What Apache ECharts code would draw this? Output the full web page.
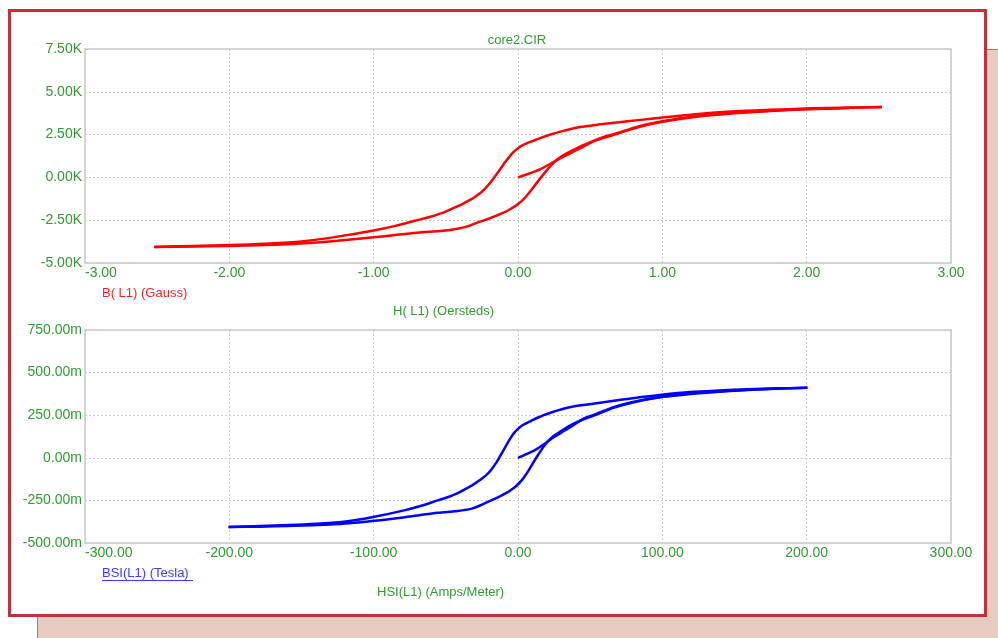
<!DOCTYPE html>
<html>
<head>
<meta charset="utf-8">
<style>
  html, body { margin: 0; padding: 0; background: #ffffff; }
  #chart { width: 998px; height: 638px; }
</style>
<script src="https://cdn.jsdelivr.net/npm/echarts@6/dist/echarts.min.js"></script>
</head>
<body>
<div id="chart"></div>
<script>
// ---- Tick values and labels ----
const xTicksCgs = [-3, -2, -1, 0, 1, 2, 3];
const xLabelsCgs = ['-3.00', '-2.00', '-1.00', '0.00', '1.00', '2.00', '3.00'];
const yTicksCgs = [-5000, -2500, 0, 2500, 5000, 7500];
const yLabelsCgs = ['-5.00K', '-2.50K', '0.00K', '2.50K', '5.00K', '7.50K'];
const xTicksSi = [-300, -200, -100, 0, 100, 200, 300];
const xLabelsSi = ['-300.00', '-200.00', '-100.00', '0.00', '100.00', '200.00', '300.00'];
const yTicksSi = [-0.5, -0.25, 0, 0.25, 0.5, 0.75];
const yLabelsSi = ['-500.00m', '-250.00m', '0.00m', '250.00m', '500.00m', '750.00m'];

// ---- B(H) in CGS units: H in Oersteds, B in Gauss ----
// initial magnetisation curve
const initH = [0, 0.04, 0.083, 0.152, 0.222, 0.291, 0.34, 0.383, 0.43, 0.476, 0.545, 0.6, 0.66, 0.75, 0.845, 1.0, 1.25, 1.5, 1.75, 2.0, 2.25, 2.52];
const initB = [0, 110, 240, 473, 783, 1115, 1320, 1500, 1700, 1893, 2200, 2380, 2520, 2760, 3000, 3280, 3580, 3770, 3900, 3990, 4060, 4110];
// descending branch
const descH = [2.52, 2.25, 2.0, 1.75, 1.5, 1.25, 1.0, 0.85, 0.7, 0.55, 0.43, 0.3, 0.22, 0.17, 0.13, 0.1, 0.06, 0.03, 0, -0.03, -0.055, -0.09, -0.125, -0.16, -0.194, -0.23, -0.263, -0.31, -0.355, -0.4, -0.448, -0.54, -0.62, -0.7, -0.85, -1.0, -1.25, -1.5, -1.75, -2.0, -2.25, -2.52];
const descB = [4110, 4070, 4020, 3950, 3860, 3700, 3500, 3360, 3220, 3080, 2940, 2690, 2490, 2350, 2220, 2120, 1990, 1870, 1700, 1490, 1260, 880, 460, 50, -330, -670, -930, -1200, -1420, -1620, -1800, -2120, -2330, -2500, -2830, -3100, -3460, -3740, -3870, -3950, -4000, -4060];
// ascending branch
const ascH = [-2.52, -2.25, -2.0, -1.75, -1.5, -1.25, -1.0, -0.85, -0.7, -0.54, -0.47, -0.402, -0.33, -0.263, -0.2, -0.148, -0.1, -0.055, -0.02, 0, 0.03, 0.06, 0.095, 0.13, 0.165, 0.199, 0.23, 0.268, 0.31, 0.36, 0.41, 0.453, 0.545, 0.66, 0.75, 0.845, 1.0, 1.25, 1.5, 1.75, 2.0, 2.3];
const ascB = [-4060, -4040, -4000, -3950, -3860, -3700, -3500, -3360, -3230, -3130, -3070, -2975, -2800, -2585, -2400, -2230, -2060, -1860, -1680, -1550, -1340, -1070, -710, -320, 60, 410, 715, 1016, 1280, 1500, 1710, 1890, 2185, 2480, 2720, 2960, 3250, 3560, 3750, 3880, 3980, 4060];

// ---- BSI(HSI) in SI units: H in A/m, B in Tesla ----
const initHsi = [0, 3.2, 6.6, 12.1, 17.7, 23.2, 27.1, 30.5, 34.2, 37.9, 43.4, 47.7, 52.5, 59.7, 67.2, 79.6, 99.5, 119.4, 139.3, 159.2, 179.0, 200.5];
const initBsi = [0, 0.011, 0.024, 0.047, 0.078, 0.112, 0.132, 0.150, 0.170, 0.189, 0.220, 0.238, 0.252, 0.276, 0.300, 0.328, 0.358, 0.377, 0.390, 0.399, 0.406, 0.411];
const descHsi = [200.5, 179.0, 159.2, 139.3, 119.4, 99.5, 79.6, 67.6, 55.7, 43.8, 34.2, 23.9, 17.5, 13.5, 10.3, 8.0, 4.8, 2.4, 0, -2.4, -4.4, -7.2, -9.9, -12.7, -15.4, -18.3, -20.9, -24.7, -28.3, -31.8, -35.7, -43.0, -49.3, -55.7, -67.6, -79.6, -99.5, -119.4, -139.3, -159.2, -179.0, -200.5];
const descBsi = [0.411, 0.407, 0.402, 0.395, 0.386, 0.370, 0.350, 0.336, 0.322, 0.308, 0.294, 0.269, 0.249, 0.235, 0.222, 0.212, 0.199, 0.187, 0.170, 0.149, 0.126, 0.088, 0.046, 0.005, -0.033, -0.067, -0.093, -0.120, -0.142, -0.162, -0.180, -0.212, -0.233, -0.250, -0.283, -0.310, -0.346, -0.374, -0.387, -0.395, -0.400, -0.406];
const ascHsi = [-200.5, -179.0, -159.2, -139.3, -119.4, -99.5, -79.6, -67.6, -55.7, -43.0, -37.4, -32.0, -26.3, -20.9, -15.9, -11.8, -8.0, -4.4, -1.6, 0, 2.4, 4.8, 7.6, 10.3, 13.1, 15.8, 18.3, 21.3, 24.7, 28.6, 32.6, 36.0, 43.4, 52.5, 59.7, 67.2, 79.6, 99.5, 119.4, 139.3, 159.2, 183.0];
const ascBsi = [-0.406, -0.404, -0.400, -0.395, -0.386, -0.370, -0.350, -0.336, -0.323, -0.313, -0.307, -0.298, -0.280, -0.259, -0.240, -0.223, -0.206, -0.186, -0.168, -0.155, -0.134, -0.107, -0.071, -0.032, 0.006, 0.041, 0.072, 0.102, 0.128, 0.150, 0.171, 0.189, 0.219, 0.248, 0.272, 0.296, 0.325, 0.356, 0.375, 0.388, 0.398, 0.406];

function pairs(xs, ys) { return xs.map((x, i) => [x, ys[i]]); }

function labeler(ticks, labels) {
  return v => {
    let best = 0;
    ticks.forEach((t, i) => { if (Math.abs(t - v) < Math.abs(ticks[best] - v)) best = i; });
    return labels[best];
  };
}

const GREEN = '#2f9a2f';
const FONT = '"Liberation Sans", Arial, sans-serif';
const gridLine = { show: true, lineStyle: { color: '#cccccc', width: 1, type: [2, 2] } };

function xAxis(gridIndex, ticks, labels) {
  return {
    type: 'value', gridIndex,
    min: ticks[0], max: ticks[ticks.length - 1], interval: ticks[1] - ticks[0],
    axisLine: { show: false }, axisTick: { show: false },
    splitLine: gridLine,
    axisLabel: {
      color: GREEN, fontFamily: FONT, fontSize: 14, margin: 3,
      alignMinLabel: 'left',
      formatter: labeler(ticks, labels)
    }
  };
}
function yAxis(gridIndex, ticks, labels) {
  return {
    type: 'value', gridIndex,
    min: ticks[0], max: ticks[ticks.length - 1], interval: ticks[1] - ticks[0],
    axisLine: { show: false }, axisTick: { show: false },
    splitLine: gridLine,
    axisLabel: {
      color: GREEN, fontFamily: FONT, fontSize: 14, margin: 3,
      formatter: labeler(ticks, labels)
    }
  };
}

// one line series per branch of the loop
function branch(axisIndex, data, color) {
  return {
    type: 'line', xAxisIndex: axisIndex, yAxisIndex: axisIndex, data,
    showSymbol: false, smooth: 0.3,
    lineStyle: { color, width: 2.5, join: 'round' }
  };
}

const chart = echarts.init(document.getElementById('chart'), null, { renderer: 'canvas' });
chart.setOption({
  animation: false,
  backgroundColor: '#ffffff',
  grid: [
    { left: 85, top: 49, width: 866, height: 214, show: true, borderColor: '#d6d6d6', borderWidth: 2, backgroundColor: 'transparent' },
    { left: 85, top: 330, width: 866, height: 213, show: true, borderColor: '#d6d6d6', borderWidth: 2, backgroundColor: 'transparent' }
  ],
  xAxis: [xAxis(0, xTicksCgs, xLabelsCgs), xAxis(1, xTicksSi, xLabelsSi)],
  yAxis: [yAxis(0, yTicksCgs, yLabelsCgs), yAxis(1, yTicksSi, yLabelsSi)],
  graphic: [
    // drop shadow behind the panel
    { type: 'rect', z: -100, shape: { x: 37.5, y: 49.5, width: 980, height: 620 },
      style: { fill: '#e8cbc0', stroke: '#c86a6a', lineWidth: 1 } },
    // white panel with red frame
    { type: 'rect', z: -90, shape: { x: 9.5, y: 10.5, width: 976, height: 605 },
      style: { fill: '#ffffff', stroke: '#c3303a', lineWidth: 3 } },
    { type: 'text', z: 10, x: 517, y: 40,
      style: { text: 'core2.CIR', fill: GREEN, font: '13px ' + FONT, textAlign: 'center', textVerticalAlign: 'middle' } },
    { type: 'text', z: 10, x: 102, y: 293,
      style: { text: 'B( L1) (Gauss)', fill: '#ff2020', font: '13px ' + FONT, textAlign: 'left', textVerticalAlign: 'middle' } },
    { type: 'text', z: 10, x: 393, y: 311,
      style: { text: 'H( L1) (Oersteds)', fill: GREEN, font: '13px ' + FONT, textAlign: 'left', textVerticalAlign: 'middle' } },
    { type: 'text', z: 10, x: 102, y: 573,
      style: { text: 'BSI(L1) (Tesla)', fill: '#3a3aff', font: '13px ' + FONT, textAlign: 'left', textVerticalAlign: 'middle' } },
    { type: 'line', z: 10, shape: { x1: 102, y1: 580.5, x2: 193, y2: 580.5 },
      style: { stroke: '#3a3aff', lineWidth: 1 } },
    { type: 'text', z: 10, x: 377, y: 592,
      style: { text: 'HSI(L1) (Amps/Meter)', fill: GREEN, font: '13px ' + FONT, textAlign: 'left', textVerticalAlign: 'middle' } }
  ],
  series: [
    branch(0, pairs(initH, initB), '#ff0000'),
    branch(0, pairs(descH, descB), '#ff0000'),
    branch(0, pairs(ascH, ascB), '#ff0000'),
    branch(1, pairs(initHsi, initBsi), '#0000ff'),
    branch(1, pairs(descHsi, descBsi), '#0000ff'),
    branch(1, pairs(ascHsi, ascBsi), '#0000ff')
  ]
});
</script>
</body>
</html>
